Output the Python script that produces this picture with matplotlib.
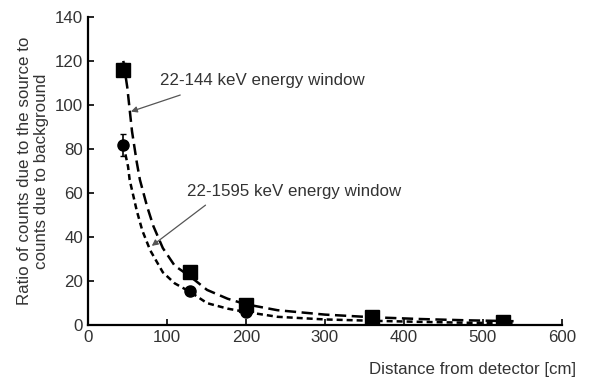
import matplotlib
matplotlib.use("Agg")
import matplotlib.pyplot as plt

plt.rcParams['font.family'] = ['Liberation Sans', 'DejaVu Sans']

# measured points
dist = [45, 130, 200, 360, 525]
ratio_144 = [116, 24, 9, 3.5, 1.5]
ratio_1595 = [82, 15.5, 6, 2, 0.8]
err_144 = [3, 1.5, 1, 0.8, 0.8]
err_1595 = [5, 1.5, 1, 0.8, 0.8]

# fitted curves
fit_x_144 = [45, 50, 53, 56, 62, 66, 75, 83, 95, 110, 130, 151, 177, 200, 240, 300, 360, 420, 480, 540]
fit_y_144 = [120, 108, 98, 88, 74, 66, 54, 45, 35, 27, 22, 16, 12, 9.5, 6.8, 4.8, 3.6, 2.8, 2.2, 1.8]
fit_x_1595 = [45, 51, 53, 62, 69, 79, 95, 110, 130, 151, 177, 200, 240, 300, 360, 420, 480, 540]
fit_y_1595 = [82, 72, 66, 52, 43, 34, 24, 19, 15, 10, 7.5, 6, 3.8, 2.6, 2, 1.5, 1.1, 0.9]

txt = '#333333'
fs = 12.2

fig, ax = plt.subplots(figsize=(5.89, 3.83), dpi=100)
fig.subplots_adjust(left=0.149, right=0.954, bottom=0.151, top=0.956)

ax.plot(fit_x_144, fit_y_144, color='black', lw=1.8, linestyle=(0, (4.5, 2.2)))
ax.plot(fit_x_1595, fit_y_1595, color='black', lw=1.8, linestyle=(0, (2.4, 1.6)))
ax.errorbar(dist, ratio_144, yerr=err_144, fmt='s', color='black', ms=9.5, elinewidth=1.2, capsize=2)
ax.errorbar(dist, ratio_1595, yerr=err_1595, fmt='o', color='black', ms=8, elinewidth=1.2, capsize=2)

arrow = dict(arrowstyle='-|>', color='#555555', lw=0.9, mutation_scale=9, shrinkA=0, shrinkB=0)
ax.annotate('', xy=(54.6, 97), xytext=(117, 104.5), arrowprops=arrow)
ax.text(91.5, 111, '22-144 keV energy window', fontsize=fs, va='center', color=txt)
ax.annotate('', xy=(81, 36), xytext=(149, 54.5), arrowprops=arrow)
ax.text(126, 60.5, '22-1595 keV energy window', fontsize=fs, va='center', color=txt)

ax.set_xlim(0, 600)
ax.set_ylim(0, 140)
ax.set_xticks(range(0, 601, 100))
ax.set_yticks(range(0, 141, 20))
ax.tick_params(direction='in', length=4, width=1.2, labelsize=fs, colors=txt)
ax.tick_params(axis='both', color='black')
for s in ['top', 'right']:
    ax.spines[s].set_visible(False)
for s in ['left', 'bottom']:
    ax.spines[s].set_linewidth(1.6)

ax.set_ylabel('Ratio of counts due to the source to\ncounts due to background', fontsize=fs, color=txt)
ax.set_xlabel('Distance from detector [cm]', fontsize=fs, color=txt, ha='right')
ax.xaxis.set_label_coords(1.03, -0.12)

plt.savefig('out.png', dpi=100)
